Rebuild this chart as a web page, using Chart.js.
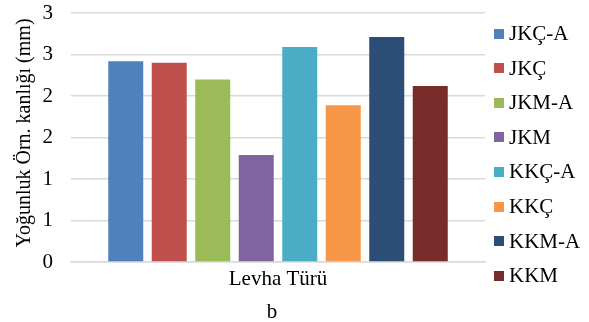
<!DOCTYPE html>
<html>
<head>
<meta charset="utf-8">
<script src="https://cdn.jsdelivr.net/npm/chart.js@4.4.1/dist/chart.umd.min.js"></script>
<style>
  html, body { margin: 0; padding: 0; background: #fff; }
  #wrap { width: 589px; height: 322px; position: relative; }
</style>
</head>
<body>
<div id="wrap"><canvas id="c" width="589" height="322"></canvas></div>
<script>
// Plate-type thickness measurements (mm)
const categories = ['Levha Türü'];
const seriesNames = ['JKÇ-A', 'JKÇ', 'JKM-A', 'JKM', 'KKÇ-A', 'KKÇ', 'KKM-A', 'KKM'];
const seriesValues = [2.42, 2.40, 2.20, 1.29, 2.59, 1.89, 2.71, 2.12];
const seriesColors = ['#4F81BD', '#C0504D', '#9BBB59', '#8064A2', '#4BACC6', '#F79646', '#2C4D75', '#772C2A'];
const yTicks = [0, 0.5, 1, 1.5, 2, 2.5, 3];
const yTitle = 'Yoğunluk Örn. kanlığı (mm)';
const caption = 'b';

const FONT = '"Liberation Serif", "Times New Roman", serif';
const TEXT = '#000000';
const GRID = '#d9d9d9';

const datasets = seriesNames.map((name, i) => ({
  label: name,
  data: [seriesValues[i]],
  backgroundColor: seriesColors[i],
  borderWidth: 0,
  barPercentage: 0.805,
  categoryPercentage: 0.8406
}));

// Legend, axis title and caption drawn on the canvas
const extras = {
  id: 'extras',
  afterDraw(chart) {
    const ctx = chart.ctx;
    ctx.save();
    ctx.fillStyle = TEXT;
    // legend on the right
    ctx.font = '21px ' + FONT;
    ctx.textAlign = 'left';
    ctx.textBaseline = 'middle';
    chart.data.datasets.forEach((ds, i) => {
      const cy = 33.5 + i * 34.6;
      ctx.fillStyle = ds.backgroundColor;
      ctx.fillRect(494, Math.round(cy - 5), 10, 10);
      ctx.fillStyle = TEXT;
      ctx.fillText(ds.label, 509, cy + 1);
    });
    // vertical axis title
    ctx.font = '20px ' + FONT;
    ctx.textAlign = 'center';
    ctx.textBaseline = 'middle';
    ctx.translate(25, 133);
    ctx.rotate(-Math.PI / 2);
    ctx.fillText(yTitle, 0, 0);
    ctx.setTransform(1, 0, 0, 1, 0, 0);
    // caption under the chart
    ctx.font = '21px ' + FONT;
    ctx.textAlign = 'center';
    ctx.textBaseline = 'alphabetic';
    ctx.fillText(caption, 272, 318);
    ctx.restore();
  }
};

new Chart(document.getElementById('c'), {
  type: 'bar',
  data: { labels: categories, datasets },
  options: {
    responsive: false,
    animation: false,
    devicePixelRatio: 1,
    layout: { padding: { top: 13, right: 104, bottom: 0, left: 0 } },
    plugins: {
      legend: { display: false },
      tooltip: { enabled: false }
    },
    scales: {
      x: {
        grid: { display: false, drawTicks: false },
        border: { display: true, color: GRID, width: 1.5 },
        ticks: { color: TEXT, font: { family: FONT, size: 21 }, padding: 5 },
        afterFit(scale) {
          scale.height = 60;
          scale.paddingLeft = 0;
          scale.paddingRight = 0;
        }
      },
      y: {
        min: 0,
        max: 3,
        afterBuildTicks(scale) { scale.ticks = yTicks.map(v => ({ value: v })); },
        grid: { color: GRID, lineWidth: 1.5, drawTicks: false },
        border: { display: false },
        ticks: {
          color: TEXT,
          font: { family: FONT, size: 21 },
          padding: 18,
          callback: v => String(Math.round(v))
        },
        afterFit(scale) {
          scale.width = 71;
          scale.paddingTop = 0;
          scale.paddingBottom = 0;
        }
      }
    }
  },
  plugins: [extras]
});
</script>
</body>
</html>
